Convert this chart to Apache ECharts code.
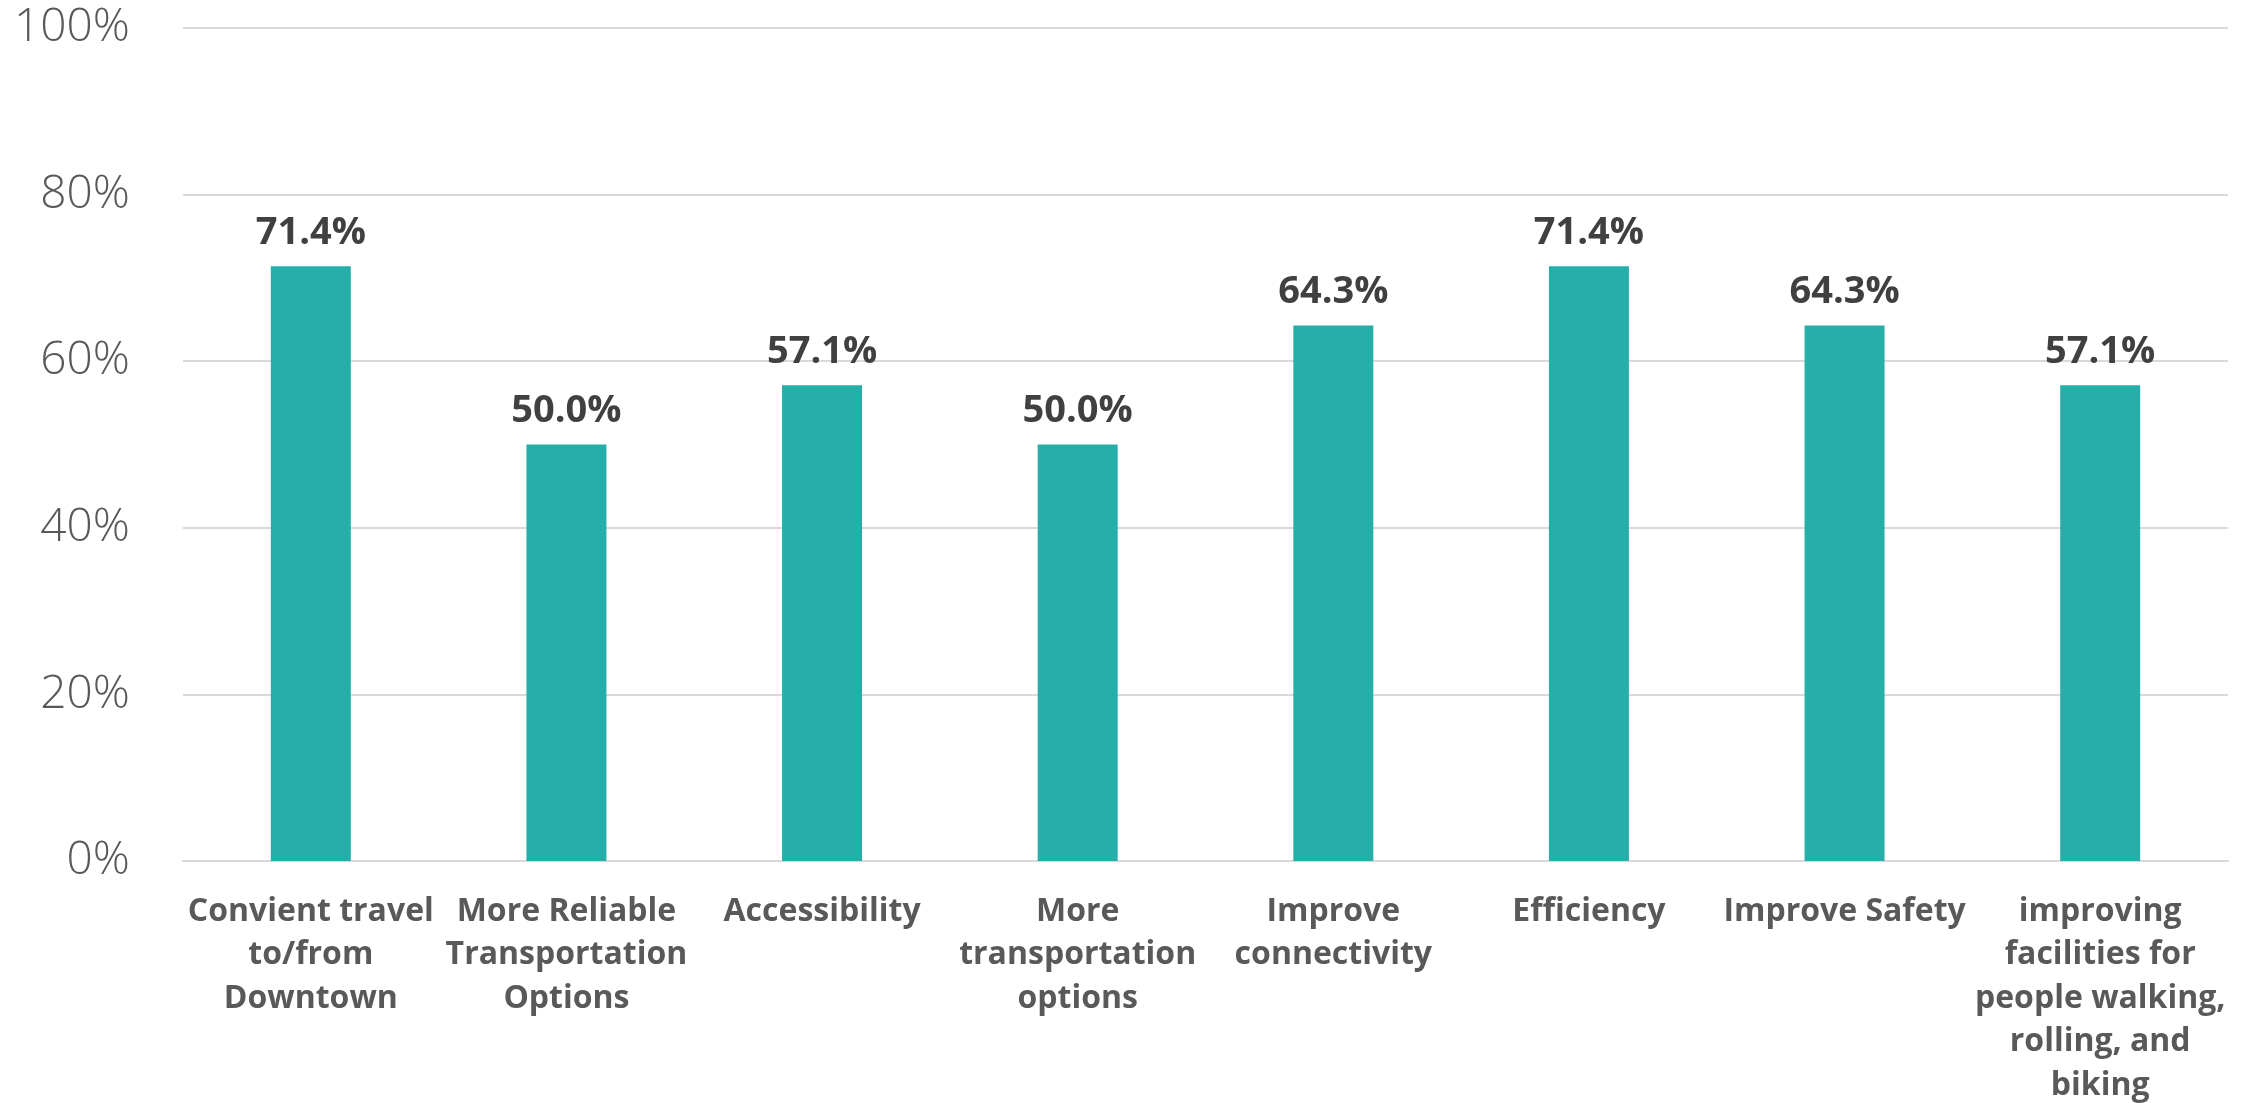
<!DOCTYPE html>
<html><head><meta charset="utf-8">
<script src="https://cdn.jsdelivr.net/npm/echarts@6/dist/echarts.min.js"></script>
<style>html,body{margin:0;padding:0;background:#fff}#c{width:2247px;height:1103px}</style>
</head><body><div id="c"></div>
<script>
const categories = [
  "Convient travel\nto/from\nDowntown",
  "More Reliable\nTransportation\nOptions",
  "Accessibility",
  "More\ntransportation\noptions",
  "Improve\nconnectivity",
  "Efficiency",
  "Improve Safety",
  "improving\nfacilities for\npeople walking,\nrolling, and\nbiking"
];
const values = [71.4, 50.0, 57.1, 50.0, 64.3, 71.4, 64.3, 57.1];
const yMin = 0, yMax = 100, yStep = 20;

const chart = echarts.init(document.getElementById('c'), null, { renderer: 'canvas' });
chart.setOption({
  animation: false,
  backgroundColor: '#ffffff',
  grid: { left: 183, right: 19, top: 28, bottom: 242, outerBoundsMode: 'none', containLabel: false },
  xAxis: {
    type: 'category',
    data: categories,
    axisLine: { show: true, lineStyle: { color: '#d9d9d9', width: 2 } },
    axisTick: { show: false },
    axisLabel: {
      interval: 0,
      margin: 29,
      color: '#595959',
      fontFamily: "'Open Sans'",
      fontWeight: 'bold',
      fontSize: 32,
      lineHeight: 43.5,
      align: 'center'
    }
  },
  yAxis: {
    type: 'value',
    min: yMin, max: yMax, interval: yStep,
    axisLine: { show: false },
    axisTick: { show: false },
    splitLine: { lineStyle: { color: '#d9d9d9', width: 2 } },
    axisLabel: {
      formatter: '{value}%',
      margin: 53,
      color: '#595959',
      fontFamily: "'Open Sans'",
      fontWeight: 300,
      fontSize: 46
    }
  },
  series: [{
    type: 'bar',
    data: values,
    barWidth: 80,
    itemStyle: { color: '#26AFA8' },
    label: {
      show: true,
      position: 'top',
      distance: 14,
      formatter: p => p.value.toFixed(1) + '%',
      color: '#404040',
      fontFamily: "'Open Sans'",
      fontWeight: 'bold',
      fontSize: 38
    }
  }]
});
</script>
</body></html>
